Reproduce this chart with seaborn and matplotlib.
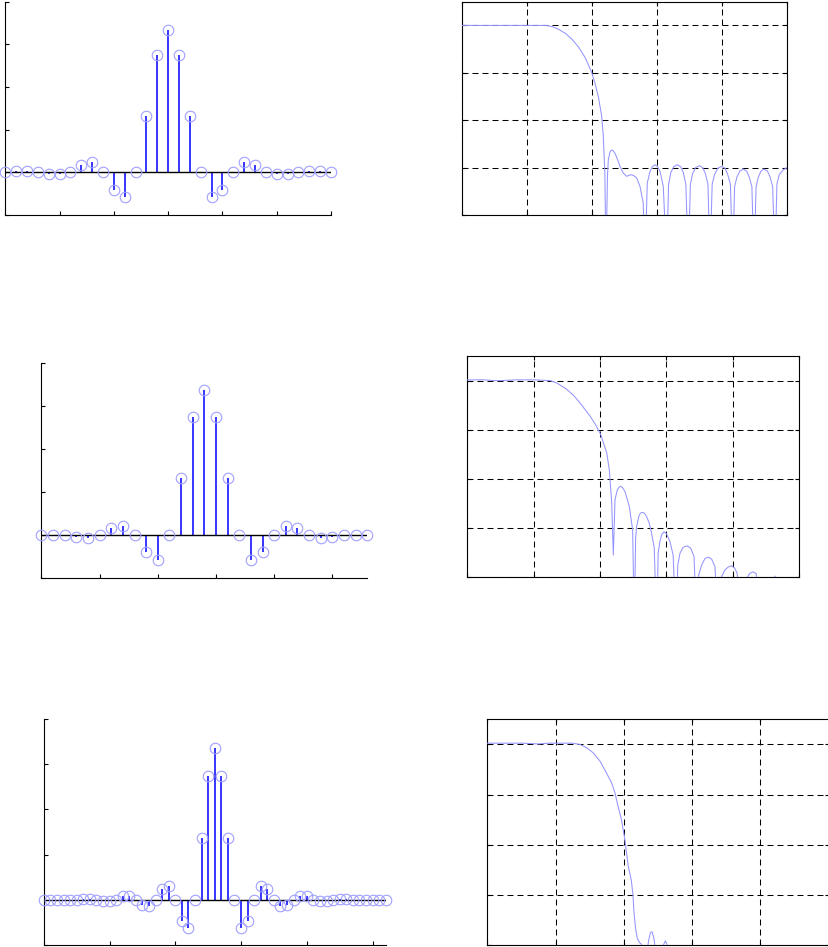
import numpy as np
import pandas as pd
import matplotlib
matplotlib.use("Agg")
import matplotlib.pyplot as plt
import seaborn as sns

# ---------------------------------------------------------------------------
# Filter taps (impulse responses) of three lowpass FIR designs
# ---------------------------------------------------------------------------
taps_a = [0.000, 0.002, 0.004, 0.000, -0.003, -0.005, 0.000, 0.016, 0.024, 0.000,
          -0.042, -0.057, 0.000, 0.132, 0.274, 0.333, 0.274, 0.132, 0.000, -0.057,
          -0.042, 0.000, 0.024, 0.016, 0.000, -0.005, -0.003, 0.000, 0.004, 0.002,
          0.000]

taps_b = [0.000, 0.001, 0.000, -0.005, -0.006, 0.000, 0.016, 0.022, 0.000, -0.038,
          -0.058, 0.000, 0.134, 0.275, 0.337, 0.275, 0.134, 0.000, -0.058, -0.038,
          0.000, 0.022, 0.016, 0.000, -0.006, -0.005, 0.000, 0.001, 0.000]

taps_c = [0.000, 0.000, 0.000, 0.000, -0.001, 0.000, 0.001, 0.001, 0.000, -0.003,
          -0.003, 0.000, 0.009, 0.008, 0.000, -0.011, -0.013, 0.000, 0.024, 0.031,
          0.000, -0.048, -0.063, 0.000, 0.137, 0.274, 0.336, 0.274, 0.137, 0.000,
          -0.063, -0.048, 0.000, 0.031, 0.024, 0.000, -0.013, -0.011, 0.000, 0.008,
          0.009, 0.000, -0.003, -0.003, 0.000, 0.001, 0.001, 0.000, -0.001, 0.000,
          0.000, 0.000, 0.000]

# ---------------------------------------------------------------------------
# Magnitude responses (normalized frequency, dB)
# ---------------------------------------------------------------------------
freq_a = [0.000, 0.100, 0.200, 0.260, 0.280, 0.300, 0.320, 0.340, 0.360, 0.380,
          0.400, 0.410, 0.420, 0.430, 0.435, 0.440, 0.4436,
          0.448, 0.4507, 0.456, 0.461, 0.466, 0.471, 0.479, 0.4866, 0.4968, 0.507,
          0.515, 0.5226, 0.530, 0.538, 0.548, 0.558, 0.5635,
          0.5705, 0.579, 0.586, 0.594, 0.602, 0.6096, 0.6197, 0.630,
          0.636, 0.643, 0.652, 0.6628, 0.673, 0.681, 0.689, 0.6966,
          0.703, 0.710, 0.719, 0.7304, 0.741, 0.749, 0.757, 0.7633,
          0.770, 0.777, 0.787, 0.799, 0.810, 0.818, 0.826, 0.833,
          0.839, 0.846, 0.855, 0.8657, 0.876, 0.884, 0.892, 0.8986,
          0.905, 0.912, 0.920, 0.929, 0.940, 0.948, 0.956, 0.963,
          0.969, 0.976, 0.988, 1.000]
mag_a = [0.0, 0.0, 0.0, 0.0, -0.6, -1.8, -3.5, -6.0, -9.3, -13.7,
         -20.0, -24.5, -30.0, -38.0, -46.0, -62.0, -100.0,
         -64.0, -56.7, -53.3, -52.5, -53.0, -53.9, -56.5, -59.5, -62.3, -63.7,
         -63.2, -63.0, -63.5, -64.4, -67.9, -74.9, -100.0,
         -66.5, -61.6, -59.6, -58.8, -59.6, -61.6, -67.9, -100.0,
         -67.0, -62.0, -59.6, -58.8, -59.6, -62.0, -67.0, -100.0,
         -67.0, -62.5, -60.0, -59.2, -60.0, -62.5, -67.0, -100.0,
         -67.0, -63.0, -60.3, -59.5, -60.3, -63.0, -67.0, -100.0,
         -68.0, -64.0, -61.5, -60.6, -61.5, -64.0, -68.0, -100.0,
         -68.0, -64.0, -61.5, -60.6, -61.5, -64.0, -68.0, -100.0,
         -67.0, -63.0, -61.0, -60.0]

freq_b = [0.000, 0.050, 0.080, 0.100, 0.150, 0.200, 0.249, 0.270, 0.299, 0.320,
          0.339, 0.3696, 0.3857, 0.4018, 0.420, 0.4277, 0.435, 0.4398,
          0.4449, 0.452, 0.457, 0.462, 0.468, 0.475, 0.488, 0.498, 0.503,
          0.507, 0.510, 0.518, 0.523, 0.528, 0.534, 0.540, 0.548, 0.555, 0.563, 0.5705,
          0.575, 0.580, 0.586, 0.593, 0.600, 0.6105, 0.620, 0.6286,
          0.634, 0.6406, 0.650, 0.6627, 0.673, 0.683, 0.691,
          0.697, 0.706, 0.716, 0.726, 0.736, 0.746, 0.756,
          0.765, 0.776, 0.786, 0.796, 0.805, 0.813, 0.821,
          0.840, 0.852, 0.861, 0.870, 0.885, 0.910, 0.927, 0.945, 1.000]
mag_b = [0.3, 0.3, 0.0, 0.0, 0.3, 0.3, 0.0, -1.0, -3.5, -6.0,
         -9.0, -14.4, -17.8, -21.9, -29.4, -36.2, -49.8, -70.9,
         -48.4, -44.4, -43.4, -43.0, -43.6, -45.1, -51.2, -60.7, -100.0,
         -64.0, -59.3, -54.6, -53.8, -53.6, -54.0, -55.3, -58.0, -62.0, -68.0, -100.0,
         -70.0, -65.5, -62.5, -61.5, -62.3, -65.5, -71.0, -100.0,
         -75.0, -70.2, -67.8, -67.2, -68.2, -71.6, -100.0,
         -79.0, -75.0, -72.3, -71.8, -72.6, -75.7, -100.0,
         -80.0, -77.0, -75.8, -75.3, -76.2, -78.4, -100.0,
         -80.5, -78.3, -77.8, -78.5, -100.0, -84.0, -79.5, -100.0, -95.0]

freq_c = [0.000, 0.100, 0.150, 0.180, 0.250, 0.2713, 0.291, 0.310, 0.330, 0.349,
          0.364, 0.374, 0.383, 0.393, 0.403, 0.413, 0.422, 0.427, 0.430, 0.435,
          0.440, 0.447, 0.452, 0.455, 0.458, 0.468, 0.473, 0.478, 0.483, 0.4887,
          0.493, 0.498, 0.512, 0.517, 0.522, 0.528, 0.535, 0.540, 0.600, 0.700,
          0.800, 0.900, 1.000]
mag_c = [0.5, 0.5, 0.2, 0.5, 0.5, 0.0, -1.3, -3.3, -6.6, -11.3,
         -15.2, -19.2, -24.5, -29.8, -37.8, -48.4, -54.0, -60.0, -67.1, -73.7,
         -77.4, -79.0, -79.5, -82.0, -100.0, -82.0, -78.0, -74.9, -74.6, -77.5,
         -82.0, -100.0, -82.0, -79.6, -78.2, -80.0, -85.0, -100.0, -95.0, -95.0,
         -95.0, -95.0, -95.0]

# ---------------------------------------------------------------------------
# Figure layout
# ---------------------------------------------------------------------------
sns.set_style("white")
plt.rcParams["lines.scale_dashes"] = False
plt.rcParams["axes.edgecolor"] = "black"
plt.rcParams["axes.linewidth"] = 0.8

W, H = 829, 947
fig = plt.figure(figsize=(W / 100, H / 100), dpi=100)


def px_axes(left, top, right, bottom):
    return fig.add_axes([left / W, 1 - bottom / H, (right - left) / W, (bottom - top) / H])


STEM_BLUE = "#0000ff"
RING = "#a0a0ff"
CURVE = "#9494ff"


def draw_taps(ax, taps, xstep):
    n = np.arange(len(taps))
    markers, stems, base = ax.stem(n, taps, linefmt="-", markerfmt="o", basefmt="k-")
    plt.setp(stems, color=STEM_BLUE, linewidth=1.1)
    plt.setp(markers, markerfacecolor="none", markeredgecolor=RING,
             markersize=7.6, markeredgewidth=0.8, clip_on=False, zorder=4)
    plt.setp(base, color="black", linewidth=1.0)
    ax.set_xlim(0, len(taps) - 1)
    ax.set_ylim(-0.1, 0.4)
    ax.set_xticks(np.arange(0, len(taps), xstep))
    ax.set_yticks([-0.1, 0.0, 0.1, 0.2, 0.3, 0.4])
    ax.spines["top"].set_visible(False)
    ax.spines["right"].set_visible(False)
    ax.tick_params(bottom=True, left=True, direction="in", length=2.6, width=0.8,
                   labelbottom=False, labelleft=False, color="black")


def draw_response(ax, freq, mag):
    df = pd.DataFrame({"f": freq, "dB": mag})
    sns.lineplot(data=df, x="f", y="dB", ax=ax, color=CURVE, linewidth=0.75,
                 sort=False, estimator=None, zorder=3)
    ax.set_xlim(0, 1)
    ax.set_ylim(-80, 10)
    ax.set_xticks([0, 0.2, 0.4, 0.6, 0.8, 1.0])
    ax.set_yticks([-80, -60, -40, -20, 0])
    ax.grid(True, color="black", linestyle=(0, (4.3, 2.9)), linewidth=0.75)
    ax.set_axisbelow(True)
    ax.set_xlabel("")
    ax.set_ylabel("")
    ax.tick_params(bottom=True, left=True, top=True, right=True, direction="in",
                   length=2.6, width=0.8, labelbottom=False, labelleft=False,
                   color="black")


ax1 = px_axes(5.3, 1.5, 331.0, 215.0)
draw_taps(ax1, taps_a, 5)
ax2 = px_axes(461.7, 1.7, 787.0, 215.0)
draw_response(ax2, freq_a, mag_a)

ax3 = px_axes(41.5, 363.3, 367.3, 578.3)
draw_taps(ax3, taps_b, 5)
ax4 = px_axes(467.3, 356.0, 799.3, 577.3)
draw_response(ax4, freq_b, mag_b)

ax5 = px_axes(43.8, 719.0, 385.7, 945.0)
draw_taps(ax5, taps_c, 10)
ax6 = px_axes(487.3, 719.3, 828.5, 945.4)
draw_response(ax6, freq_c, mag_c)

fig.savefig("out.png", dpi=100, facecolor="white")
